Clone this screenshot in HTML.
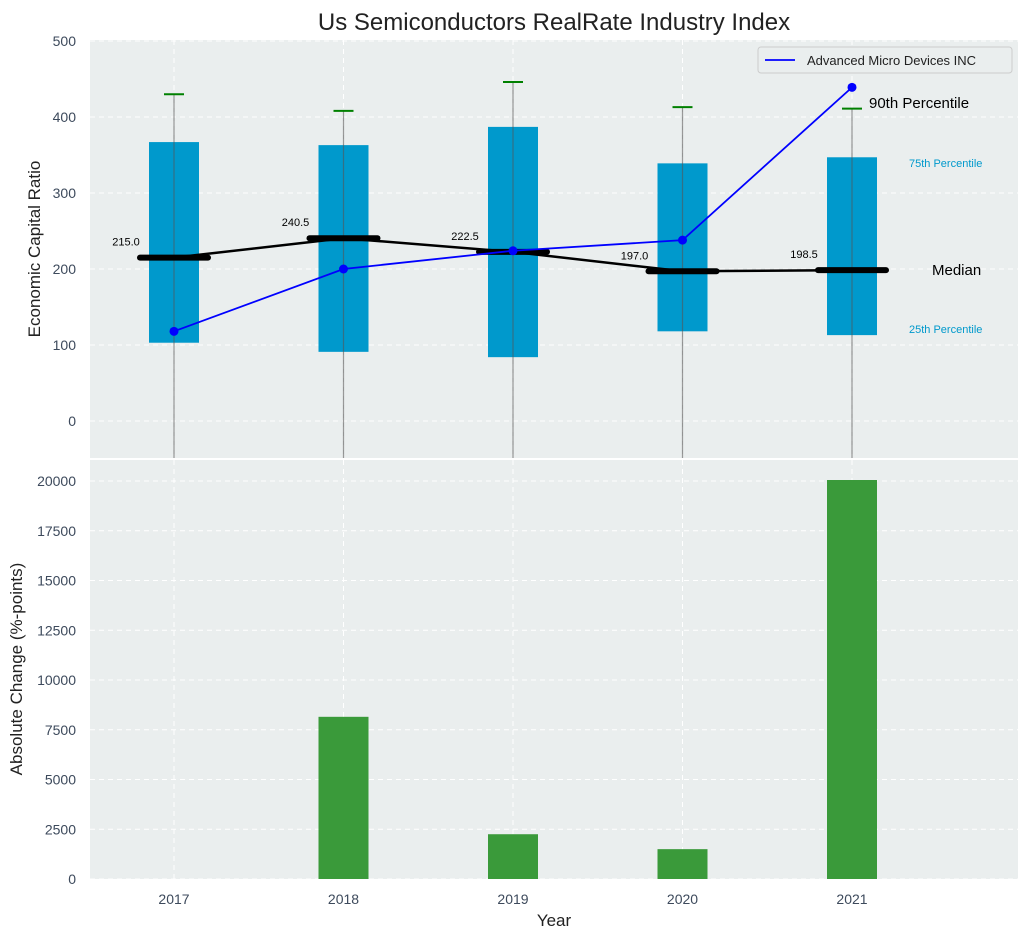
<!DOCTYPE html>
<html><head><meta charset="utf-8"><style>
body{margin:0;background:#fff;font-family:"Liberation Sans","DejaVu Sans",sans-serif}
svg text{font-family:"Liberation Sans","DejaVu Sans",sans-serif}
</style></head><body>
<svg id="c" width="1029" height="940"></svg>
<script>
const years=['2017','2018','2019','2020','2021'];
const q1=[103,91,84,118,113];
const q3=[367,363,387,339,347];
const whiskerTop=[430,408,446,413,411];
const medians=[215,240.5,222.5,197,198.5];
const amd=[118,200,224,238,439];
const changes=[0,8150,2250,1500,20050];
const topTicks=[0,100,200,300,400,500];
const botTicks=[0,2500,5000,7500,10000,12500,15000,17500,20000];

const NS='http://www.w3.org/2000/svg';
const svg=document.getElementById('c');
function el(t,a,p){const e=document.createElementNS(NS,t);for(const k in a)e.setAttribute(k,a[k]);(p||svg).appendChild(e);return e;}
const X=i=>174+i*169.5;
const Yt=v=>421-v*0.76;
const Yb=v=>879-v*0.0199;
const L=90,R=1018;
const TC='#3d4a5c';

let p=el('rect',{x:L,y:40,width:R-L,height:418,fill:'#eaeeee'});

p=el('rect',{x:L,y:460,width:R-L,height:419,fill:'#eaeeee'});


topTicks.forEach(v=>{
 el('line',{x1:L,x2:R,y1:Yt(v),y2:Yt(v),stroke:'#fff','stroke-dasharray':'5,4'});
 const t=el('text',{x:76,y:Yt(v)+5,'text-anchor':'end','font-size':14,fill:TC});t.textContent=v;
 
});
botTicks.forEach(v=>{
 el('line',{x1:L,x2:R,y1:Yb(v),y2:Yb(v),stroke:'#fff','stroke-dasharray':'5,4'});
 const t=el('text',{x:76,y:Yb(v)+5,'text-anchor':'end','font-size':14,fill:TC});t.textContent=v;
 
});
years.forEach((y,i)=>{
 el('line',{x1:X(i),x2:X(i),y1:40,y2:458,stroke:'#fff','stroke-dasharray':'5,4'});
 el('line',{x1:X(i),x2:X(i),y1:460,y2:879,stroke:'#fff','stroke-dasharray':'5,4'});
 const t=el('text',{x:X(i),y:904,'text-anchor':'middle','font-size':14,fill:TC});t.textContent=y;
 
});

years.forEach((y,i)=>{
 const b=el('rect',{x:X(i)-25,y:Yt(q3[i]),width:50,height:Yt(q1[i])-Yt(q3[i]),fill:'#0099cc'});
 
 el('line',{x1:X(i),x2:X(i),y1:Yt(whiskerTop[i]),y2:458,stroke:'#555','stroke-opacity':0.6,'stroke-width':1.2});
 el('line',{x1:X(i)-10,x2:X(i)+10,y1:Yt(whiskerTop[i]),y2:Yt(whiskerTop[i]),stroke:'#008000','stroke-width':2});
 const m=el('line',{x1:X(i)-34,x2:X(i)+34,y1:Yt(medians[i]),y2:Yt(medians[i]),stroke:'#000','stroke-width':6,'stroke-linecap':'round'});
 
 const t=el('text',{x:X(i)-48,y:Yt(medians[i])-12,'text-anchor':'middle','font-size':11,fill:'#000'});t.textContent=medians[i].toFixed(1);
 
});
let ml=el('polyline',{points:medians.map((v,i)=>X(i)+','+Yt(v)).join(' '),fill:'none',stroke:'#000','stroke-width':2.5});

let al=el('polyline',{points:amd.map((v,i)=>X(i)+','+Yt(v)).join(' '),fill:'none',stroke:'#0000ff','stroke-width':1.8});

amd.forEach((v,i)=>{const c=el('circle',{cx:X(i),cy:Yt(v),r:4.5,fill:'#0000ff'});
 });

changes.forEach((v,i)=>{
 if(v<=0)return;
 const b=el('rect',{x:X(i)-25,y:Yb(v),width:50,height:Yb(0)-Yb(v),fill:'#3a9a3a'});
 
});

function txt(x,y,s,size,fill,name,anchor){const t=el('text',{x,y,'font-size':size,fill,'text-anchor':anchor||'start'});t.textContent=s;return t;}
txt(869,108,'90th Percentile',15,'#000','label-90th');
txt(909,167,'75th Percentile',11,'#0099cc','label-75th');
txt(932,275,'Median',15,'#000','label-median');
txt(909,333,'25th Percentile',11,'#0099cc','label-25th');
txt(554,30,'Us Semiconductors RealRate Industry Index',24,'#222','chart-title','middle');
txt(554,926,'Year',17,'#222','x-axis-title','middle');
let yt=txt(0,0,'Economic Capital Ratio',17,'#222','y-axis-title-top','middle');yt.setAttribute('transform','translate(40,249) rotate(-90)');
let yb=txt(0,0,'Absolute Change (%-points)',17,'#222','y-axis-title-bottom','middle');yb.setAttribute('transform','translate(22,669) rotate(-90)');

const lg=el('g',{});
el('rect',{x:758,y:47,width:254,height:26,fill:'#eaeeee',stroke:'#ccc',rx:3},lg);
el('line',{x1:765,x2:795,y1:60,y2:60,stroke:'#0000ff','stroke-width':1.8},lg);
const lt=el('text',{x:807,y:65,'font-size':13,fill:'#222'},lg);lt.textContent='Advanced Micro Devices INC';
</script>
</body></html>
